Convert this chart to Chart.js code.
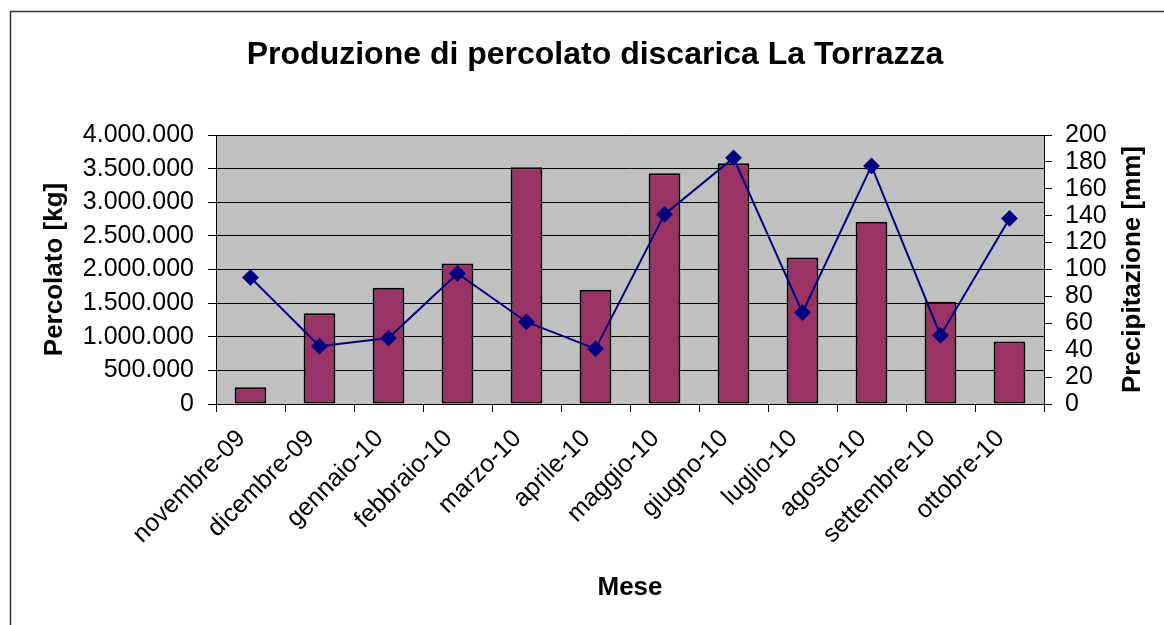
<!DOCTYPE html>
<html>
<head>
<meta charset="utf-8">
<script src="https://cdn.jsdelivr.net/npm/chart.js@4.4.1/dist/chart.umd.min.js"></script>
<style>
  html, body { margin: 0; padding: 0; background: #fff; }
  #wrap { width: 1164px; height: 625px; position: relative; }
</style>
</head>
<body>
<div id="wrap"><canvas id="c" width="1164" height="625"></canvas></div>
<script>
const categories = ['novembre-09','dicembre-09','gennaio-10','febbraio-10','marzo-10','aprile-10','maggio-10','giugno-10','luglio-10','agosto-10','settembre-10','ottobre-10'];
const percolato = [250000, 1350000, 1730000, 2090000, 3520000, 1700000, 3430000, 3580000, 2180000, 2710000, 1520000, 930000];
const precipitazione = [94, 43, 49, 97, 61, 41, 141, 183, 68, 177, 51, 138];
const chartTitle = 'Produzione di percolato discarica La Torrazza';
const xTitle = 'Mese';
const yLeftTitle = 'Percolato [kg]';
const yRightTitle = 'Precipitazione [mm]';

const FONT = '"Liberation Sans", Arial, sans-serif';

function fmtIt(v) {
  return String(Math.round(v)).replace(/\B(?=(\d{3})+(?!\d))/g, '.');
}

const decor = {
  id: 'decor',
  beforeDraw(chart) {
    const ctx = chart.ctx, a = chart.chartArea;
    ctx.save();
    ctx.fillStyle = '#fff';
    ctx.fillRect(0, 0, chart.width, chart.height);
    ctx.strokeStyle = '#333';
    ctx.lineWidth = 1.5;
    ctx.strokeRect(10.5, 11.5, 3000, 3000);
    ctx.fillStyle = '#C0C0C0';
    ctx.fillRect(a.left, a.top, a.right - a.left, a.bottom - a.top);
    ctx.restore();
  },
  afterDraw(chart) {
    const ctx = chart.ctx, a = chart.chartArea;
    ctx.save();
    ctx.fillStyle = '#000';
    ctx.textAlign = 'center';
    ctx.textBaseline = 'alphabetic';
    ctx.font = 'bold 32px ' + FONT;
    ctx.fillText(chartTitle, 595, 64);
    ctx.font = 'bold 26px ' + FONT;
    ctx.fillText(xTitle, (a.left + a.right) / 2, 595);
    const cy = (a.top + a.bottom) / 2;
    ctx.save();
    ctx.translate(62, cy);
    ctx.rotate(-Math.PI / 2);
    ctx.fillText(yLeftTitle, 0, 0);
    ctx.restore();
    ctx.save();
    ctx.translate(1140, cy);
    ctx.rotate(-Math.PI / 2);
    ctx.fillText(yRightTitle, 0, 0);
    ctx.restore();
    ctx.restore();
  }
};

new Chart(document.getElementById('c'), {
  data: {
    labels: categories,
    datasets: [
      {
        type: 'line',
        label: 'Precipitazione',
        data: precipitazione,
        yAxisID: 'y1',
        borderColor: '#000080',
        backgroundColor: '#000080',
        borderWidth: 2,
        pointStyle: 'rectRot',
        pointRadius: 7,
        pointBackgroundColor: '#000080',
        pointBorderColor: '#000080',
        tension: 0,
        order: 0
      },
      {
        type: 'bar',
        label: 'Percolato',
        data: percolato,
        yAxisID: 'y',
        backgroundColor: '#993366',
        borderColor: '#000',
        borderWidth: 2,
        borderSkipped: false,
        categoryPercentage: 1,
        barPercentage: 0.46,
        order: 1
      }
    ]
  },
  options: {
    responsive: false,
    animation: false,
    devicePixelRatio: 1,
    layout: { padding: { top: 135, left: 0, right: 0, bottom: 0 } },
    plugins: { legend: { display: false }, title: { display: false }, tooltip: { enabled: false } },
    scales: {
      x: {
        offset: true,
        grid: { offset: true, drawOnChartArea: false, color: '#000', tickLength: 8, tickWidth: 1 },
        border: { color: '#000', width: 1 },
        ticks: { color: '#000', font: { family: FONT, size: 25 }, maxRotation: 45, minRotation: 45, padding: 12, labelOffset: -9, autoSkip: false },
        afterFit(s) { s.height = 625 - 404; }
      },
      y: {
        position: 'left',
        min: 0, max: 4000000,
        ticks: { stepSize: 500000, color: '#000', font: { family: FONT, size: 25 }, padding: 14, autoSkip: false, callback: v => fmtIt(v) },
        grid: { color: '#000', lineWidth: 1, tickLength: 8 },
        border: { color: '#000', width: 1 },
        afterFit(s) { s.width = 216; }
      },
      y1: {
        position: 'right',
        min: 0, max: 200,
        ticks: { stepSize: 20, color: '#000', font: { family: FONT, size: 25 }, padding: 13, autoSkip: false },
        grid: { drawOnChartArea: false, color: '#000', tickLength: 8 },
        border: { color: '#000', width: 1 },
        afterFit(s) { s.width = 1164 - 1044; }
      }
    }
  },
  plugins: [decor]
});
</script>
</body>
</html>
